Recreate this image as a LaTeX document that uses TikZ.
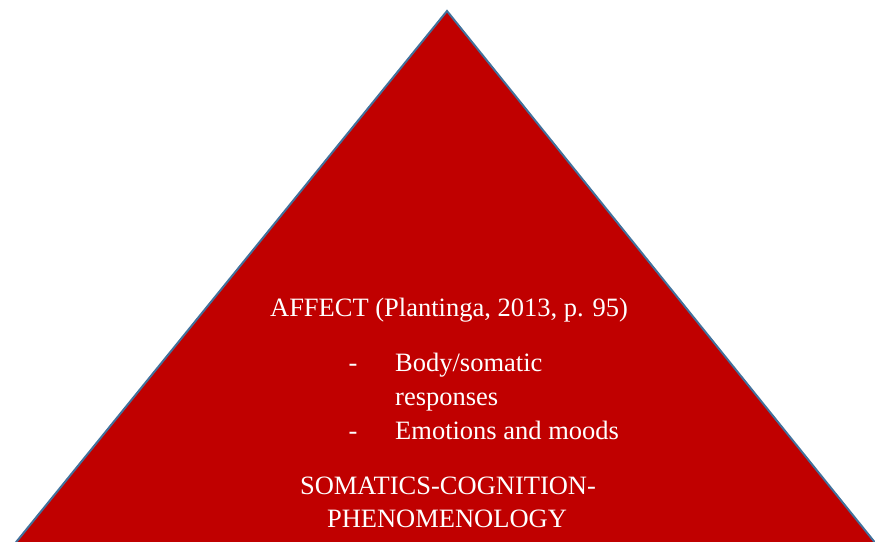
\documentclass[tikz,border=0pt]{standalone}
\usepackage{fontspec}
\setmainfont{Liberation Serif}
\usepackage{xcolor}
\usepackage{tikz}
\usetikzlibrary{positioning}
\definecolor{pyramidred}{RGB}{192,0,0}
\definecolor{edgeblue}{RGB}{65,113,156}

\begin{document}
\begin{tikzpicture}[x=1pt,y=-1pt,
		txt/.style={text=white,inner sep=0pt,anchor=base,font=\fontsize{26.5}{33}\selectfont}]
			\useasboundingbox (0,0) rectangle (875,541);
			\clip (0,0) rectangle (875,541);
			
			\filldraw[fill=pyramidred,draw=edgeblue,line width=2pt]
				(447,11) -- (889,560) -- (1.6,560) -- cycle;
			
			\node[txt] (affect) at (449,316.7) {AFFECT (Plantinga, 2013, p. 95)};
			
			\node[txt] (dashone) at (353,371.7) {-};
			\node[txt,anchor=base west] (body) at (395,371.7) {Body/somatic};
			\node[txt,anchor=base west] (resp) at (395,405) {responses};
			\node[txt] (dashtwo) at (353,439) {-};
			\node[txt,anchor=base west] (emo) at (395,439) {Emotions and moods};
			
			\node[txt] (soma) at (448,494) {SOMATICS-COGNITION-};
			\node[txt] (pheno) at (447,527) {PHENOMENOLOGY};
		\end{tikzpicture}
\end{document}
